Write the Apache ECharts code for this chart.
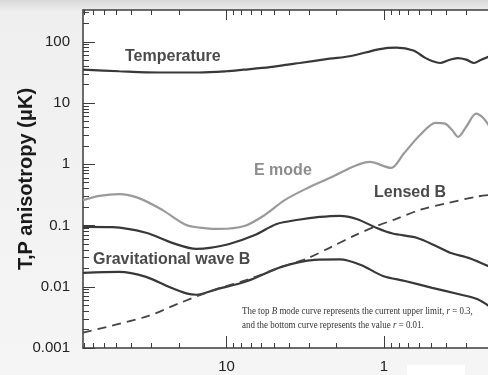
<!DOCTYPE html>
<html>
<head>
    <meta charset="utf-8">
    <title>CMB anisotropy</title>
    <style>
        html, body { margin: 0; padding: 0; }
        #main {
            width: 488px;
            height: 375px;
            background: linear-gradient(#d9d9d9 0px, #efefef 12px, #f5f5f5 100%);
        }
    </style>
</head>
<body>
<div id="main"></div>
<script src="https://cdn.jsdelivr.net/npm/echarts@6/dist/echarts.min.js"></script>
<script>
    // angular scale (degrees, decreasing to the right) and amplitude in uK
    var temperature = [[81.5, 35], [48, 33], [26.7, 31.5], [14.9, 31.5], [10, 33], [7.8, 35], [5.3, 38.6],
        [3.43, 45], [2.21, 53], [1.65, 58], [1.06, 76], [0.83, 80], [0.65, 72], [0.55, 55], [0.49, 48],
        [0.44, 45], [0.39, 50], [0.34, 54], [0.30, 51], [0.267, 45], [0.245, 50], [0.212, 58]];

    var eMode = [[81.5, 0.26], [64, 0.305], [48, 0.325], [36, 0.28], [25.6, 0.18], [18, 0.102], [13.4, 0.09],
        [11.1, 0.088], [7.7, 0.098], [5.7, 0.149], [4.27, 0.26], [3.05, 0.41], [2.14, 0.62], [1.53, 0.94],
        [1.23, 1.09], [0.90, 0.87], [0.75, 1.48], [0.59, 3.0], [0.47, 4.75], [0.41, 4.6], [0.37, 3.65],
        [0.338, 2.8], [0.30, 4.1], [0.26, 6.7], [0.234, 5.7], [0.212, 4.0]];

    var gwBUpper = [[81.5, 0.095], [53, 0.094], [32.4, 0.076], [22.1, 0.052], [15.5, 0.0415], [12.8, 0.043],
        [9.6, 0.05], [6.6, 0.07], [4.8, 0.106], [3.5, 0.124], [2.56, 0.138], [1.91, 0.144], [1.49, 0.128],
        [1.11, 0.091], [0.88, 0.074], [0.62, 0.063], [0.46, 0.0455], [0.38, 0.036], [0.283, 0.029], [0.212, 0.021]];

    var gwBLower = [[81.5, 0.0168], [48, 0.0175], [32.4, 0.0145], [23.1, 0.0099], [18, 0.0078], [15.5, 0.0074],
        [11.9, 0.0089], [7.35, 0.0124], [4.47, 0.0211], [2.75, 0.0274], [1.91, 0.0279], [1.40, 0.0227],
        [1.015, 0.015], [0.735, 0.0124], [0.494, 0.0096], [0.338, 0.0076], [0.256, 0.0063], [0.212, 0.0047]];

    var lensedB = [[81.5, 0.00179], [32.4, 0.00325], [19.9, 0.0054], [11.9, 0.0089], [7.14, 0.0134],
        [4.47, 0.0211], [3.05, 0.0292], [2.14, 0.0452], [1.53, 0.069], [1.11, 0.0985], [0.85, 0.126],
        [0.59, 0.18], [0.40, 0.231], [0.256, 0.297], [0.212, 0.316]];

    var xMajorTicks = [10, 1];
    var xMinorTicks = [80, 70, 60, 50, 40, 30, 20, 9, 8, 7, 6, 5, 4, 3, 2, 0.9, 0.8, 0.7, 0.6, 0.5, 0.4, 0.3];
    var yMajorTicks = [0.001, 0.01, 0.1, 1, 10, 100];
    var yMinorTicks = [];
    yMajorTicks.forEach(function (d) {
        [2, 3, 4, 5, 6, 7, 8, 9].forEach(function (m) {
            var v = +(d * m).toPrecision(3);
            if (v < 330) yMinorTicks.push(v);
        });
    });

    var myChart = echarts.init(document.getElementById('main'));

    var axisColor = '#3c3c3c';
    var darkLine = '#383838';

    function xAxisDef(position, ticks, len, showLine, showLabel) {
        return {
            type: 'log',
            inverse: true,
            min: 0.212,
            max: 81.5,
            position: position,
            axisLine: {show: showLine, lineStyle: {color: axisColor, width: 1.5}},
            axisTick: {show: true, inside: true, length: len, customValues: ticks,
                lineStyle: {color: axisColor, width: 1}},
            axisLabel: {show: showLabel, customValues: ticks, margin: 11, color: '#222',
                fontSize: 15, fontFamily: 'Liberation Sans',
                formatter: function (v) { return String(v); }},
            splitLine: {show: false},
            minorTick: {show: false}
        };
    }

    function yAxisDef(ticks, len, showLine, showLabel) {
        return {
            type: 'log',
            min: 0.001,
            max: 330,
            position: 'left',
            name: showLabel ? 'T,P anisotropy (μK)' : '',
            nameLocation: 'middle',
            nameGap: 47,
            nameMoveOverlap: false,
            nameTextStyle: {fontSize: 20, fontWeight: 'bold', color: '#1a1a1a', fontFamily: 'Liberation Sans'},
            axisLine: {show: showLine, lineStyle: {color: axisColor, width: 1.5}},
            axisTick: {show: true, inside: true, length: len, customValues: ticks,
                lineStyle: {color: axisColor, width: 1}},
            axisLabel: {show: showLabel, customValues: ticks, margin: 13, color: '#222',
                fontSize: 15, fontFamily: 'Liberation Sans',
                formatter: function (v) { return String(v); }},
            splitLine: {show: false},
            minorTick: {show: false}
        };
    }

    function lineSeries(data, color, width, dash) {
        return {
            type: 'line',
            data: data,
            smooth: 0.3,
            showSymbol: false,
            silent: true,
            lineStyle: {color: color, width: width, type: dash || 'solid'}
        };
    }

    var labelFont = {fontSize: 16, fontWeight: 'bold', fontFamily: 'Liberation Sans'};

    var option = {
        animation: false,
        backgroundColor: 'transparent',
        grid: {left: 83, top: 10, right: -2, bottom: 27, show: true, backgroundColor: '#fff', borderWidth: 0,
            containLabel: false, outerBoundsMode: 'none'},
        xAxis: [
            xAxisDef('bottom', xMajorTicks, 12, true, true),
            xAxisDef('bottom', xMinorTicks, 5, false, false),
            xAxisDef('top', xMajorTicks, 10, true, false),
            xAxisDef('top', xMinorTicks, 5, false, false)
        ],
        yAxis: [
            yAxisDef(yMajorTicks, 12, true, true),
            yAxisDef(yMinorTicks, 6, false, false)
        ],
        series: [
            lineSeries(temperature, darkLine, 2.2),
            lineSeries(eMode, '#9a9a9a', 2.2),
            lineSeries(gwBUpper, darkLine, 2.2),
            lineSeries(gwBLower, darkLine, 2.2),
            lineSeries(lensedB, '#444', 1.8, [9, 6])
        ],
        graphic: [
            {type: 'text', left: 125, top: 49, style: echarts.util.extend({text: 'Temperature', fill: '#4a4a4a'}, labelFont)},
            {type: 'text', left: 254, top: 163, style: echarts.util.extend({text: 'E mode', fill: '#8c8c8c'}, labelFont)},
            {type: 'text', left: 374, top: 185, style: echarts.util.extend({text: 'Lensed B', fill: '#4a4a4a'}, labelFont)},
            {type: 'text', left: 93, top: 252, style: echarts.util.extend({text: 'Gravitational wave B', fill: '#4a4a4a'}, labelFont)},
            {
                type: 'text', left: 242, top: 304, scaleX: 0.85,
                style: {
                    text: 'The top {i|B} mode curve represents the current upper limit, {i|r} = 0.3,\nand the bottom curve represents the value {i|r} = 0.01.',
                    fill: '#333', fontSize: 10.5, fontFamily: 'Liberation Serif', lineHeight: 14,
                    rich: {i: {fontStyle: 'italic', fontSize: 10.5, fontFamily: 'Liberation Serif', fill: '#333'}}
                }
            },
            {type: 'rect', left: 407, top: 365, shape: {width: 58, height: 10}, style: {fill: '#fff'}}
        ]
    };
    myChart.setOption(option);
</script>
</body>
</html>
